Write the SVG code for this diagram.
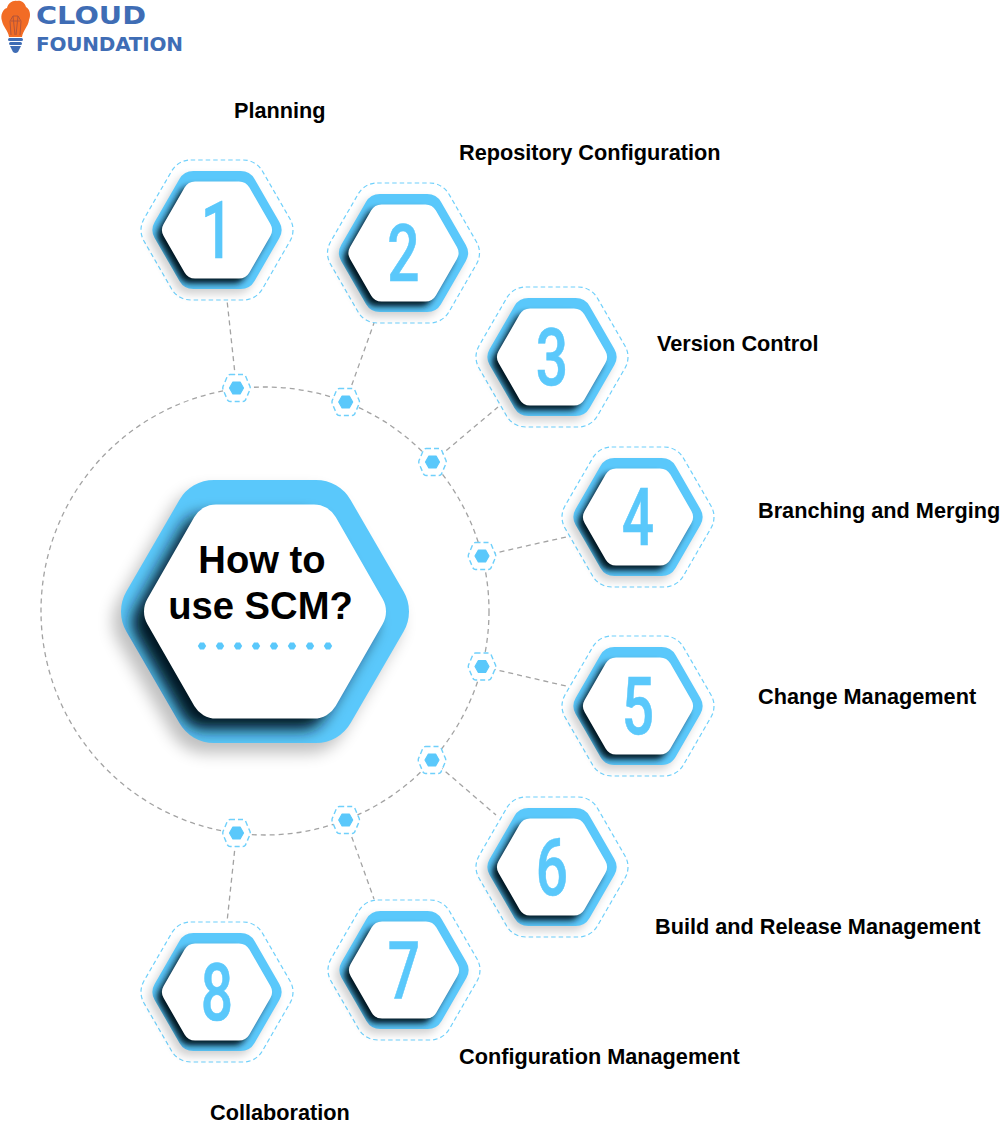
<svg xmlns="http://www.w3.org/2000/svg" width="1000" height="1128" viewBox="0 0 1000 1128">
<style>
.lbl{font-family:"Liberation Sans",Arial,sans-serif;font-weight:700;font-size:21.7px;fill:#000}
.title{font-family:"Liberation Sans",Arial,sans-serif;font-weight:700;font-size:38.2px;fill:#000;text-anchor:middle}
.dig{font-family:Roboto,"Liberation Sans",sans-serif;font-weight:500;font-size:79px;fill:#5ac8fb;stroke:#5ac8fb;stroke-width:.6;text-anchor:middle}
.conn{fill:none;stroke:#a3a3a3;stroke-width:1.3;stroke-dasharray:5 4}
.ring{fill:none;stroke:#6fd0fb;stroke-width:1.2;stroke-dasharray:4.5 3}
.blue{fill:#5ac8fb}
.logo{font-family:"DejaVu Sans",sans-serif;font-weight:700;fill:#3f6db5}
</style>
<defs>
<filter id="blur2" x="-30%" y="-30%" width="160%" height="160%"><feGaussianBlur stdDeviation="3.2"/></filter>
<filter id="soft2" x="-30%" y="-30%" width="160%" height="160%"><feGaussianBlur stdDeviation="4"/></filter>
<filter id="blur3" x="-30%" y="-30%" width="160%" height="160%"><feGaussianBlur stdDeviation="7.5"/></filter>
<filter id="soft3" x="-30%" y="-30%" width="160%" height="160%"><feGaussianBlur stdDeviation="8"/></filter>
<path id="outerS" d="M-23.7,-59H23.7A16,16 0 0 1 37.56,-51L62.36,-8A16,16 0 0 1 62.36,8L37.56,51A16,16 0 0 1 23.7,59H-23.7A16,16 0 0 1 -37.56,51L-62.36,8A16,16 0 0 1 -62.36,-8L-37.56,-51A16,16 0 0 1 -23.7,-59Z"/>
<polygon id="innerS" points="-22,-36.5 22,-36.5 43,0 22,36.5 -22,36.5 -43,0" stroke-width="24" stroke-linejoin="round"/>
<path id="outerB" d="M-51,-131.5H51A40,40 0 0 1 85.64,-111.5L138.64,-20A40,40 0 0 1 138.64,20L85.64,111.5A40,40 0 0 1 51,131.5H-51A40,40 0 0 1 -85.64,111.5L-138.64,20A40,40 0 0 1 -138.64,-20L-85.64,-111.5A40,40 0 0 1 -51,-131.5Z"/>
<polygon id="innerB" points="-49,-82 49,-82 96,0 49,82 -49,82 -96,0" stroke-width="50" stroke-linejoin="round"/>
<clipPath id="clipS"><use href="#outerS"/></clipPath>
<clipPath id="clipB"><use href="#outerB"/></clipPath>
<g id="hexS">
<path class="ring" d="M-26.3,-70H26.3A22,22 0 0 1 45.35,-59L73.05,-11A22,22 0 0 1 73.05,11L45.35,59A22,22 0 0 1 26.3,70H-26.3A22,22 0 0 1 -45.35,59L-73.05,11A22,22 0 0 1 -73.05,-11L-45.35,-59A22,22 0 0 1 -26.3,-70Z"/>
<use href="#outerS" x="-4" y="5" fill="#000" opacity=".18" filter="url(#soft2)"/>
<use href="#outerS" class="blue"/>
<g clip-path="url(#clipS)"><use href="#innerS" x="-5" y="5" fill="#061722" stroke="#061722" filter="url(#blur2)"/></g>
<use href="#innerS" fill="#fff" stroke="#fff"/>
</g>
<g id="dotN">
<polygon points="-6.8,-12.6 6.8,-12.6 12.8,0 6.8,12.6 -6.8,12.6 -12.8,0" fill="#fff" stroke="#fff" stroke-width="2.4" stroke-linejoin="round"/>
<path d="M-6.5,-13.5H6.5Q8,-13.5 9,-12L13.5,-1.5Q14,0 13.5,1.5L9,12Q8,13.5 6.5,13.5H-6.5Q-8,13.5 -9,12L-13.5,1.5Q-14,0 -13.5,-1.5L-9,-12Q-8,-13.5 -6.5,-13.5Z" fill="none" stroke="#6fd0fb" stroke-width="1.4" stroke-dasharray="5 3"/>
<polygon points="-3.6,-6 3.6,-6 7,0 3.6,6 -3.6,6 -7,0" class="blue" stroke="#5ac8fb" stroke-width="1.2" stroke-linejoin="round"/>
</g>
<polygon id="dot" points="-2,-3.6 2,-3.6 4.2,0 2,3.6 -2,3.6 -4.2,0" class="blue"/>
</defs>
<rect width="1000" height="1128" fill="#fff"/>

<g id="logo">
<path d="M9,37C8,30 3,27 2,21C0,15 3,9 7,8C8,3 13,0 17,1C21,0 25,3 26,7C30,9 31,15 29,20C28,27 23,30 22,37Z" fill="#f26c25"/>
<path d="M11,35L10,21L13,16H18L21,21L20,35M13,16L15,35M18,16L16,35M11,21H20" fill="none" stroke="#b4553a" stroke-width="1"/>
<rect x="8" y="38" width="15" height="3" rx="1.5" fill="#3f6db5"/>
<rect x="9" y="42" width="13" height="3" rx="1.5" fill="#3f6db5"/>
<path d="M10,46H21L18,52Q15.5,54 13,52Z" fill="#3f6db5"/>
<text class="logo" x="36" y="23.500" font-size="25.3" textLength="110" lengthAdjust="spacingAndGlyphs">CLOUD</text>
<text class="logo" x="36" y="51" font-size="20" textLength="147" lengthAdjust="spacing">FOUNDATION</text>
</g>

<g id="connectors">
<circle class="conn" cx="265" cy="611" r="224"/>
<path class="conn" d="M236.500,388L227,300M345.700,402L374,323M432.500,462L498,407M482,556L566,537M482,666.500L566,686M432,760L496,815M345.700,820L374,899M236.500,833L227,922"/>
</g>

<g id="center">
<g transform="translate(265,611.500)">
<use href="#outerB" x="-8" y="10" opacity=".25" filter="url(#soft3)"/>
<use href="#outerB" class="blue"/>
<g clip-path="url(#clipB)"><use href="#innerB" x="-12" y="11" fill="#061722" stroke="#061722" filter="url(#blur3)"/></g>
<use href="#innerB" fill="#fff" stroke="#fff"/>
</g>
<text class="title" x="262" y="572.500">How to</text>
<text class="title" x="260.500" y="618.500">use SCM?</text>
<use href="#dot" x="202" y="646"/><use href="#dot" x="220" y="646"/><use href="#dot" x="238" y="646"/><use href="#dot" x="256" y="646"/><use href="#dot" x="274" y="646"/><use href="#dot" x="292" y="646"/><use href="#dot" x="310" y="646"/><use href="#dot" x="328" y="646"/>
</g>

<g id="junctions">
<use href="#dotN" x="236.500" y="388"/><use href="#dotN" x="345.700" y="402"/><use href="#dotN" x="432.500" y="462"/><use href="#dotN" x="482" y="556"/><use href="#dotN" x="482" y="666.500"/><use href="#dotN" x="432" y="760"/><use href="#dotN" x="345.700" y="820"/><use href="#dotN" x="236.500" y="833"/>
</g>

<g id="node-1"><use href="#hexS" x="217" y="230"/><text class="dig" transform="translate(217,258) scale(.72,1)">1</text><text class="lbl" x="234" y="118">Planning</text></g>
<g id="node-2"><use href="#hexS" x="403.500" y="253"/><text class="dig" transform="translate(403.500,281) scale(.72,1)">2</text><text class="lbl" x="459" y="160">Repository Configuration</text></g>
<g id="node-3"><use href="#hexS" x="552" y="357"/><text class="dig" transform="translate(552,385) scale(.72,1)">3</text><text class="lbl" x="657" y="351">Version Control</text></g>
<g id="node-4"><use href="#hexS" x="638" y="517"/><text class="dig" transform="translate(638,545) scale(.72,1)">4</text><text class="lbl" x="758" y="518">Branching and Merging</text></g>
<g id="node-5"><use href="#hexS" x="638" y="706"/><text class="dig" transform="translate(638,734) scale(.72,1)">5</text><text class="lbl" x="758" y="704">Change Management</text></g>
<g id="node-6"><use href="#hexS" x="552" y="867"/><text class="dig" transform="translate(552,895) scale(.72,1)">6</text><text class="lbl" x="655" y="934">Build and Release Management</text></g>
<g id="node-7"><use href="#hexS" x="404" y="970"/><text class="dig" transform="translate(404,998) scale(.72,1)">7</text><text class="lbl" x="459" y="1064">Configuration Management</text></g>
<g id="node-8"><use href="#hexS" x="217" y="992"/><text class="dig" transform="translate(217,1020) scale(.72,1)">8</text><text class="lbl" x="210" y="1120">Collaboration</text></g>
</svg>
